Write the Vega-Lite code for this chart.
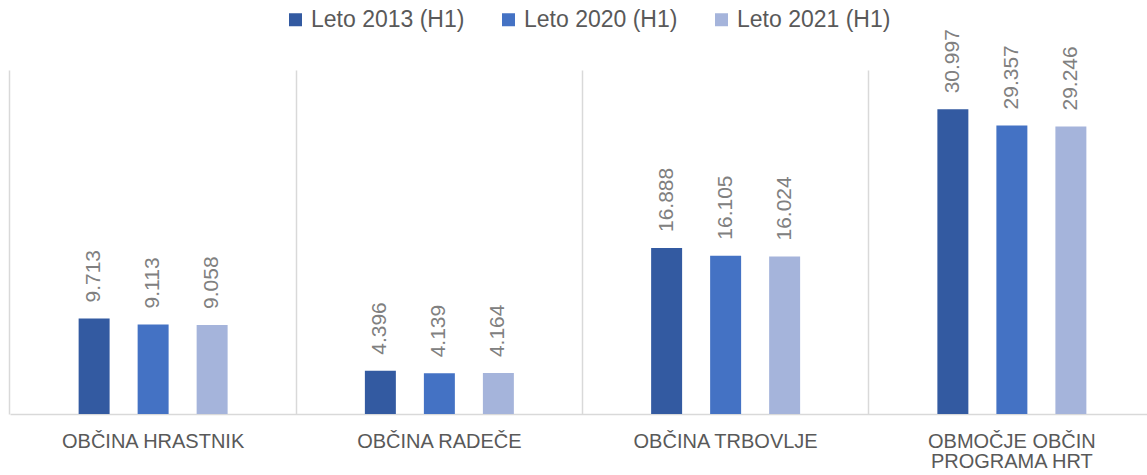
{
  "$schema": "https://vega.github.io/schema/vega-lite/v6.json",
  "width": 1145,
  "height": 344,
  "autosize": {"type": "none"},
  "padding": {"left": 10, "top": 70, "right": 0, "bottom": 61},
  "config": {
    "view": {"stroke": null},
    "font": "Liberation Sans",
    "locale": {"number": {"decimal": ",", "thousands": ".", "grouping": [3], "currency": ["", " €"]}}
  },
  "data": {
    "values": [
      {"obcina": "OBČINA HRASTNIK", "leto": "Leto 2013 (H1)", "vrednost": 9713},
      {"obcina": "OBČINA HRASTNIK", "leto": "Leto 2020 (H1)", "vrednost": 9113},
      {"obcina": "OBČINA HRASTNIK", "leto": "Leto 2021 (H1)", "vrednost": 9058},
      {"obcina": "OBČINA RADEČE", "leto": "Leto 2013 (H1)", "vrednost": 4396},
      {"obcina": "OBČINA RADEČE", "leto": "Leto 2020 (H1)", "vrednost": 4139},
      {"obcina": "OBČINA RADEČE", "leto": "Leto 2021 (H1)", "vrednost": 4164},
      {"obcina": "OBČINA TRBOVLJE", "leto": "Leto 2013 (H1)", "vrednost": 16888},
      {"obcina": "OBČINA TRBOVLJE", "leto": "Leto 2020 (H1)", "vrednost": 16105},
      {"obcina": "OBČINA TRBOVLJE", "leto": "Leto 2021 (H1)", "vrednost": 16024},
      {"obcina": "OBMOČJE OBČIN PROGRAMA HRT", "leto": "Leto 2013 (H1)", "vrednost": 30997},
      {"obcina": "OBMOČJE OBČIN PROGRAMA HRT", "leto": "Leto 2020 (H1)", "vrednost": 29357},
      {"obcina": "OBMOČJE OBČIN PROGRAMA HRT", "leto": "Leto 2021 (H1)", "vrednost": 29246}
    ]
  },
  "encoding": {
    "x": {
      "field": "obcina",
      "type": "nominal",
      "sort": null,
      "scale": {"paddingInner": 0.2734, "paddingOuter": 0.1367},
      "axis": {
        "title": null,
        "labelAngle": 0,
        "labelFontSize": 20,
        "labelColor": "#595959",
        "labelPadding": 17,
        "labelBaseline": "top",
        "labelLineHeight": 20,
        "labelLimit": 400,
        "labelExpr": "datum.value == 'OBMOČJE OBČIN PROGRAMA HRT' ? ['OBMOČJE OBČIN', 'PROGRAMA HRT'] : datum.label",
        "ticks": false,
        "domainColor": "#d9d9d9",
        "domainWidth": 1.5,
        "grid": true,
        "bandPosition": -0.1882,
        "gridColor": "#d9d9d9",
        "gridWidth": 1.5
      }
    },
    "xOffset": {
      "field": "leto",
      "type": "nominal",
      "scale": {"paddingInner": 0.475, "paddingOuter": 0.5}
    },
    "y": {
      "field": "vrednost",
      "type": "quantitative",
      "scale": {"domain": [0, 35000]},
      "axis": null
    }
  },
  "layer": [
    {
      "mark": {"type": "bar"},
      "encoding": {
        "color": {
          "field": "leto",
          "type": "nominal",
          "scale": {"range": ["#335AA1", "#4472C4", "#A5B4DB"]},
          "legend": {
            "title": null,
            "orient": "none",
            "direction": "horizontal",
            "legendX": 274,
            "legendY": -62,
            "symbolType": "square",
            "symbolSize": 169,
            "symbolStrokeWidth": 0,
            "labelFontSize": 23,
            "labelColor": "#595959",
            "labelOffset": 4,
            "columnPadding": 32
          }
        }
      }
    },
    {
      "mark": {"type": "text", "angle": 270, "align": "left", "baseline": "middle", "dx": 16, "fontSize": 21, "color": "#808080"},
      "encoding": {
        "text": {"field": "vrednost", "type": "quantitative", "format": ","}
      }
    }
  ]
}
